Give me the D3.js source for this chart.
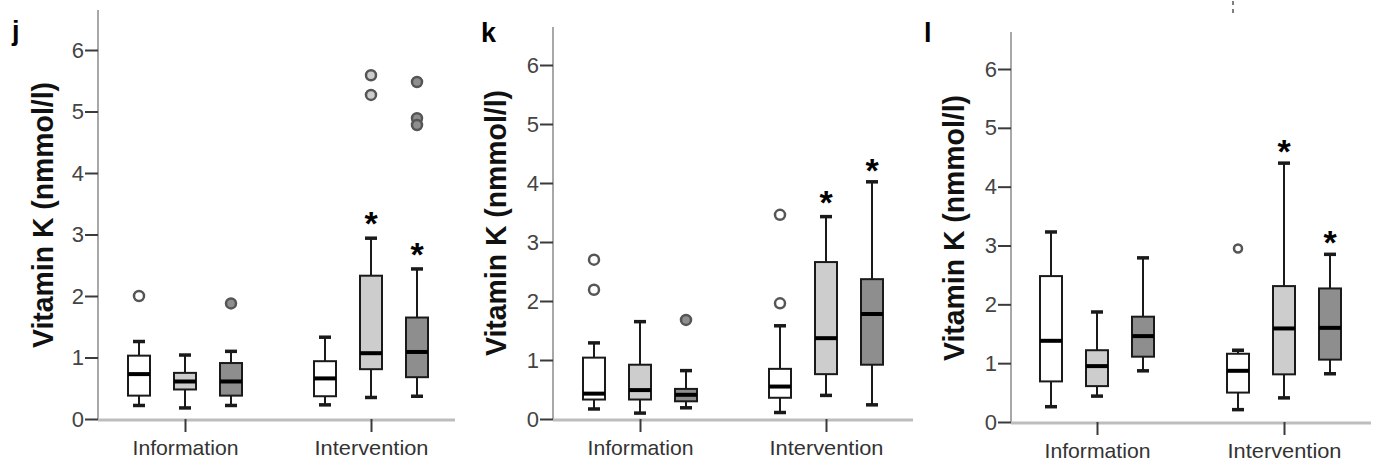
<!DOCTYPE html>
<html lang="en">
<head>
<meta charset="UTF-8">
<script src="https://d3js.org/d3.v7.min.js"></script>
<title>Vitamin K boxplots</title>
<style>
  body { margin: 0; background: #fff; }
</style>
</head>
<body>
<div id="chart"></div>
<script>
// categories and the three groups drawn in each category
var categories = ["Information", "Intervention"];
var series = ["s1", "s2", "s3"];
var yTicks = [0, 1, 2, 3, 4, 5, 6];
var yLabel = "Vitamin K (nmmol/l)";
var panelLetters = ["j", "k", "l"];

// box stats: [whisker low, Q1, median, Q3, whisker high], per category then series
var boxesJ = [
    [[0.22, 0.38, 0.73, 1.03, 1.26], [0.18, 0.48, 0.61, 0.75, 1.04], [0.22, 0.38, 0.61, 0.91, 1.10]],
    [[0.23, 0.37, 0.66, 0.94, 1.33], [0.35, 0.81, 1.07, 2.33, 2.94], [0.37, 0.68, 1.09, 1.65, 2.44]]
];
var outliersJ = [[[2.0], [], [1.88]], [[], [5.59, 5.27], [5.48, 4.89, 4.78]]];
var starsJ = [[null, null, null], [null, 3.3, 2.8]];

var boxesK = [
    [[0.17, 0.33, 0.43, 1.04, 1.29], [0.10, 0.33, 0.49, 0.92, 1.65], [0.19, 0.30, 0.41, 0.51, 0.82]],
    [[0.11, 0.36, 0.55, 0.85, 1.58], [0.40, 0.76, 1.37, 2.66, 3.43], [0.24, 0.92, 1.78, 2.37, 4.02]]
];
var outliersK = [[[2.70, 2.19], [], [1.68]], [[3.46, 1.96], [], []]];
var starsK = [[null, null, null], [null, 3.8, 4.33]];

var boxesL = [
    [[0.26, 0.69, 1.38, 2.48, 3.23], [0.44, 0.61, 0.95, 1.22, 1.87], [0.87, 1.11, 1.46, 1.79, 2.79]],
    [[0.21, 0.50, 0.87, 1.16, 1.22], [0.41, 0.81, 1.59, 2.31, 4.40], [0.82, 1.06, 1.60, 2.27, 2.85]]
];
var outliersL = [[[], [], []], [[2.95], [], []]];
var starsL = [[null, null, null], [null, 4.72, 3.18]];

var seriesFill = ["#ffffff", "#cdcdcd", "#8e8e8e"];

var width = 1376, height = 463;
var font = "Arial, 'Liberation Sans', sans-serif";

// where each panel sits on the page
var layouts = [
    {left: 98, top: 10, y0: 419, y6: 50, right: 455, g: [185, 371], lx: 12, ly: 40, labX: 42, labY: 215},
    {left: 553, top: 27, y0: 419, y6: 65, right: 913, g: [640, 826], lx: 481, ly: 42, labX: 495, labY: 223},
    {left: 1011, top: 32, y0: 422, y6: 69, right: 1371, g: [1097, 1284], lx: 924, ly: 42, labX: 953, labY: 228}
];
var panelData = [
    {boxes: boxesJ, outliers: outliersJ, stars: starsJ},
    {boxes: boxesK, outliers: outliersK, stars: starsK},
    {boxes: boxesL, outliers: outliersL, stars: starsL}
];

var svg = d3.select("#chart").append("svg")
    .attr("width", width)
    .attr("height", height)
    .style("font-family", font);

var boxW = 22, capW = 12;

layouts.forEach(function(lay, pi) {
    var pd = panelData[pi];
    var g = svg.append("g");

    var y = d3.scaleLinear().domain([0, 6]).range([lay.y0, lay.y6]);
    var x = d3.scalePoint().domain(categories).range(lay.g);
    var xs = d3.scalePoint().domain(series).range([-46, 46]);

    // axis lines
    g.append("line")
        .attr("x1", lay.left).attr("x2", lay.left)
        .attr("y1", lay.top).attr("y2", lay.y0)
        .attr("stroke", "#a8a8a8").attr("stroke-width", 2);
    g.append("line")
        .attr("x1", lay.left).attr("x2", lay.right)
        .attr("y1", lay.y0 + 1).attr("y2", lay.y0 + 1)
        .attr("stroke", "#bdbdbd").attr("stroke-width", 3);

    var yAxis = g.append("g")
        .attr("transform", "translate(" + lay.left + ",0)")
        .call(d3.axisLeft(y).tickValues(yTicks).tickSize(13).tickPadding(1).tickFormat(d3.format("d")));
    yAxis.select(".domain").remove();
    yAxis.attr("font-family", null).attr("font-size", null);
    yAxis.selectAll(".tick line").attr("stroke", "#3a3a3a").attr("stroke-width", 2);
    yAxis.selectAll(".tick text")
        .attr("fill", "#444")
        .style("font-size", "22px");

    var xAxis = g.append("g")
        .attr("transform", "translate(0," + lay.y0 + ")")
        .call(d3.axisBottom(x).tickSize(13).tickPadding(8));
    xAxis.select(".domain").remove();
    xAxis.attr("font-family", null).attr("font-size", null);
    xAxis.selectAll(".tick line").attr("stroke", "#3a3a3a").attr("stroke-width", 2);
    xAxis.selectAll(".tick text")
        .attr("fill", "#333")
        .style("font-size", "21px")
        .attr("textLength", d => d == "Information" ? 106 : 114)
        .attr("lengthAdjust", "spacingAndGlyphs");

    // y title
    g.append("text")
        .attr("transform", "translate(" + lay.labX + "," + lay.labY + ") rotate(-90)")
        .attr("text-anchor", "middle")
        .attr("dy", "0.36em")
        .style("font-size", "30px")
        .attr("font-weight", "bold")
        .attr("fill", "#111")
        .attr("textLength", 266)
        .attr("lengthAdjust", "spacingAndGlyphs")
        .text(yLabel);

    // panel letter
    g.append("text")
        .attr("x", lay.lx).attr("y", lay.ly)
        .style("font-size", "27px")
        .attr("font-weight", "bold")
        .attr("fill", "#000")
        .text(panelLetters[pi]);

    categories.forEach(function(cat, ci) {
        series.forEach(function(s, si) {
            var b = pd.boxes[ci][si];
            var cx = x(cat) + xs(s);
            var bg = g.append("g");

            // whiskers
            bg.append("line")
                .attr("x1", cx).attr("x2", cx)
                .attr("y1", y(b[4])).attr("y2", y(b[3]))
                .attr("stroke", "#1a1a1a").attr("stroke-width", 2);
            bg.append("line")
                .attr("x1", cx).attr("x2", cx)
                .attr("y1", y(b[1])).attr("y2", y(b[0]))
                .attr("stroke", "#1a1a1a").attr("stroke-width", 2);
            [b[0], b[4]].forEach(function(v) {
                bg.append("line")
                    .attr("x1", cx - capW / 2).attr("x2", cx + capW / 2)
                    .attr("y1", y(v)).attr("y2", y(v))
                    .attr("stroke", "#1a1a1a").attr("stroke-width", 3.5);
            });

            // box
            bg.append("rect")
                .attr("x", cx - boxW / 2).attr("width", boxW)
                .attr("y", y(b[3])).attr("height", y(b[1]) - y(b[3]))
                .attr("fill", seriesFill[si])
                .attr("stroke", "#1a1a1a").attr("stroke-width", 2);
            bg.append("line")
                .attr("x1", cx - boxW / 2).attr("x2", cx + boxW / 2)
                .attr("y1", y(b[2])).attr("y2", y(b[2]))
                .attr("stroke", "#000").attr("stroke-width", 4);

            // outliers
            bg.selectAll("circle")
                .data(pd.outliers[ci][si])
                .enter().append("circle")
                .attr("cx", cx).attr("cy", d => y(d))
                .attr("r", pi == 2 ? 4 : 5)
                .attr("fill", seriesFill[si])
                .attr("stroke", "#555").attr("stroke-width", 2.5);

            // significance stars
            var st = pd.stars[ci][si];
            if (st != null) {
                bg.append("text")
                    .attr("x", cx).attr("y", y(st))
                    .attr("dy", "0.55em")
                    .attr("text-anchor", "middle")
                    .style("font-size", "34px")
                    .attr("font-weight", "bold")
                    .attr("fill", "#000")
                    .text("*");
            }
        });
    });
});

// small dotted mark at the top of panel l
svg.append("line")
    .attr("x1", 1233).attr("x2", 1233)
    .attr("y1", 1).attr("y2", 15)
    .attr("stroke", "#555").attr("stroke-width", 1.5)
    .attr("stroke-dasharray", "4,4");
</script>
</body>
</html>
